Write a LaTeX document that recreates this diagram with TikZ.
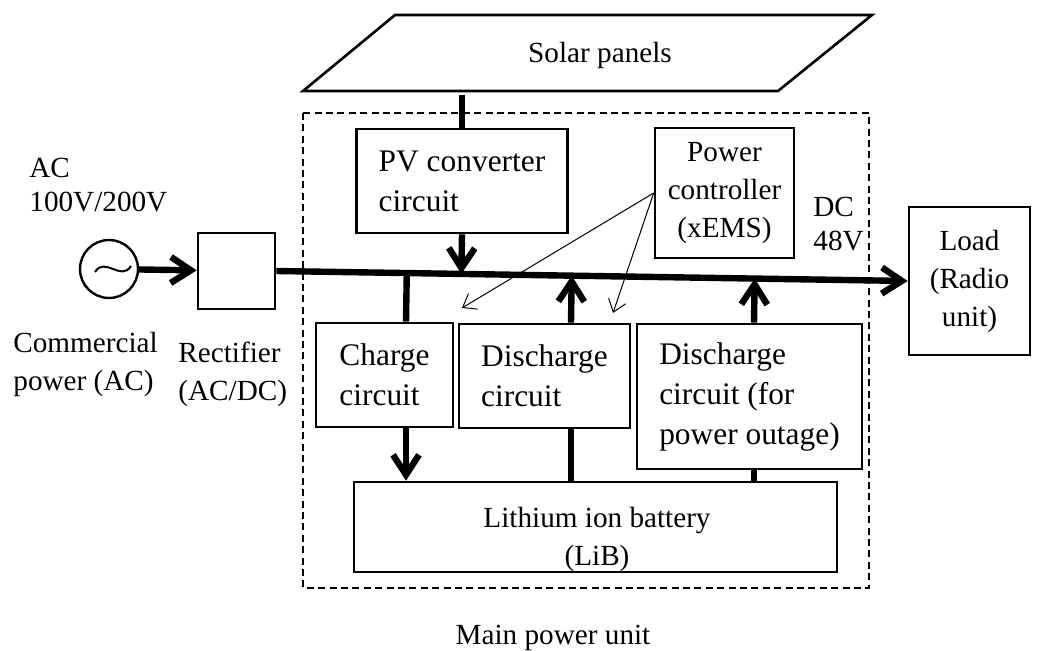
\documentclass[tikz,border=0pt]{standalone}
\usepackage{fontspec}
\setmainfont{Liberation Serif}
\usetikzlibrary{calc,arrows.meta}
\newcommand{\boxfont}{\fontsize{15.7}{20}\selectfont}
\newcommand{\lblfont}{\fontsize{14.6}{19}\selectfont}
\newcommand{\tightfont}{\fontsize{14.6}{17}\selectfont}
\tikzset{
  blk/.style={draw, line width=1.3pt, align=left, inner sep=0pt, font=\boxfont},
  cblk/.style={blk, align=center, font=\lblfont},
  bus/.style={line width=3.2pt},
  barb/.style={-{Straight Barb[length=10pt,width=13pt]}},
  ctl/.style={line width=0.5pt, -{Straight Barb[length=6pt,width=9pt]}},
  lbl/.style={font=\lblfont, align=left, inner sep=0pt},
}
\begin{document}
\begin{tikzpicture}[x=0.5pt,y=-0.5pt]
	\useasboundingbox (0,0) rectangle (1042,651);
	% solar panels and main power unit frame
	\draw[line width=1.3pt] (395,15) -- (872,15) -- (778,91) -- (303,91) -- cycle;
	\node[lbl] (solar) at (600,55) {Solar panels};
	\coordinate (panelfoot) at (462,95);
	\draw[line width=1pt, dash pattern=on 3.5pt off 2.2pt] (303,113) rectangle (869,588);
	\node[lbl] (mpu) at (553,638) {Main power unit};
	% blocks
	\node[blk, minimum width=105.5pt, minimum height=52pt] (pv) at (462,181) {PV converter\\circuit};
	\node[cblk, minimum width=69.5pt, minimum height=65pt] (ctrl) at (724.5,193) {Power\\controller\\(xEMS)};
	\node[blk, minimum width=68.5pt, minimum height=52pt] (chg) at (384.5,375) {Charge\\circuit};
	\node[blk, minimum width=85.5pt, minimum height=52pt] (dis) at (544.5,376) {Discharge\\circuit};
	\node[blk, minimum width=112.5pt, minimum height=72.5pt] (dout) at (749.5,396.5) {Discharge\\circuit (for\\power outage)};
	\node[draw, line width=1.3pt, minimum width=241.5pt, minimum height=45pt] (bat) at (595.5,527) {};
	\node[lbl, align=center] (batlbl) at (597,539) {Lithium ion battery\\(LiB)};
	\node[cblk, minimum width=60.5pt, minimum height=74pt] (load) at (969.5,281) {Load\\(Radio\\unit)};
	\node[draw, line width=1.3pt, minimum width=38.5pt, minimum height=38pt, inner sep=0pt] (rect) at (236.5,271) {};
	\node[draw, circle, line width=1.2pt, minimum size=29pt, inner sep=0pt] (src) at (109,269) {};
	\draw[line width=1pt] ($(src)+(-14,3)$) .. controls +(10,-16) and +(-10,16) .. ($(src)+(22,-3)$);
	% labels
	\node[lbl, anchor=west, font=\tightfont] (acv) at (29,185) {AC\\100V/200V};
	\node[lbl, anchor=west] (com) at (13,364) {Commercial\\power (AC)};
	\node[lbl, anchor=west] (rectlbl) at (178,374) {Rectifier\\(AC/DC)};
	\node[lbl, anchor=west, font=\tightfont] (dcv) at (813,224.5) {DC\\48V};
	% DC bus and branches
	\draw[bus, barb] (src) -- (rect);
	\draw[bus, barb] (rect.east) -- (load.west);
	\draw[bus] (panelfoot) -- (pv.north);
	\draw[bus, barb] (pv.south) -- ($(rect.east)!(pv.south)!(load.west)$);
	\draw[bus] ($(rect.east)!([xshift=10.75pt]chg.north)!(load.west)$) -- ([xshift=10.75pt]chg.north);
	\draw[bus, barb] ([xshift=10.75pt]chg.south) -- ([xshift=10.75pt]chg.south |- bat.north);
	\draw[bus, barb] ([xshift=13.25pt]dis.north) -- ($(rect.east)!([xshift=13.25pt]dis.north)!(load.west)$);
	\draw[bus] ([xshift=13.25pt]dis.south |- bat.north) -- ([xshift=13.25pt]dis.south);
	\draw[bus, barb] ([xshift=2.25pt]dout.north) -- ($(rect.east)!([xshift=2.25pt]dout.north)!(load.west)$);
	\draw[bus] ([xshift=2.25pt]dout.south) -- ([xshift=2.25pt]dout.south |- bat.north);
	% control signals
	\coordinate (tgtC) at (462,308);
	\coordinate (tgtD) at (613,313);
	\draw[ctl] (ctrl.west) -- (tgtC);
	\draw[ctl] (ctrl.west) -- (tgtD);
\end{tikzpicture}
\end{document}
